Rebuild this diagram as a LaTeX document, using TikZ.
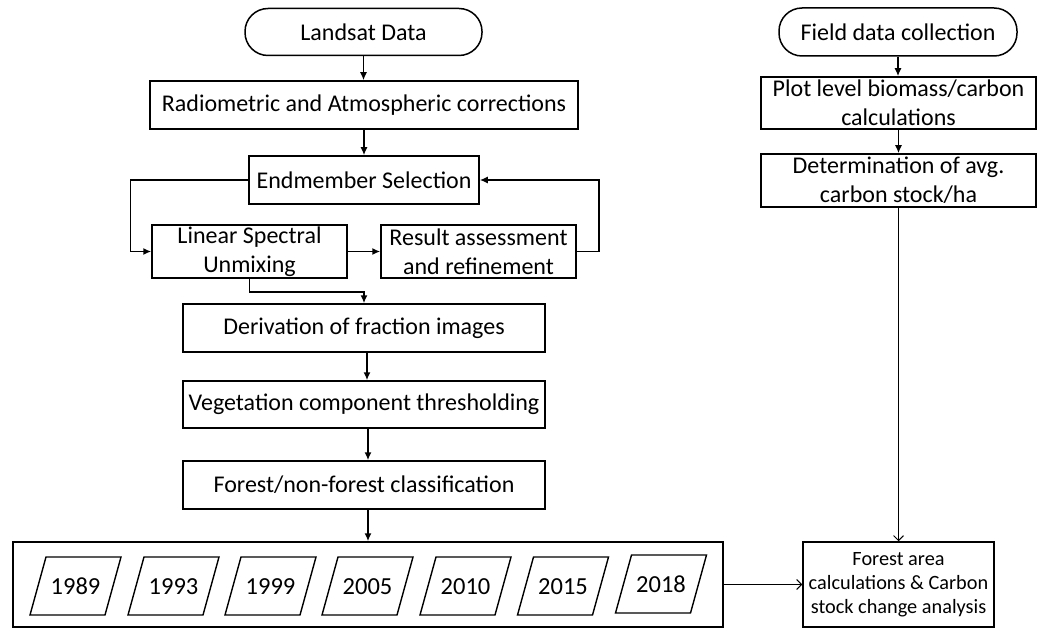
\documentclass[tikz,border=0pt]{standalone}
\usepackage{fontspec}
\setmainfont{Carlito}[Numbers=Lining]
\usetikzlibrary{arrows.meta}
\begin{document}
\begin{tikzpicture}[x=1pt,y=-1pt,
  box/.style={draw, line width=1.5pt, inner sep=0pt, align=center, font=\fontsize{24}{29}\selectfont},
  term/.style={box, rounded corners=23pt},
  yrtext/.style={inner sep=0pt, anchor=base, font=\fontsize{24.5}{28}\selectfont},
  para/.style={line width=1.4pt, line join=miter},
  arr/.style={line width=1.5pt, -{Latex[length=8pt,width=7pt]}},
  thinarr/.style={line width=0.9pt, -{Straight Barb[length=5pt,width=10pt]}}
]
\useasboundingbox (0,0) rectangle (1040,628);
% left column
\node[term, minimum width=237pt, minimum height=47pt] (land) at (363.5,32) {Landsat Data};
\node[box, minimum width=428pt, minimum height=48pt] (rad) at (364,105) {Radiometric and Atmospheric corrections};
\node[box, minimum width=230pt, minimum height=48pt] (endm) at (364,180) {Endmember Selection};
\node[box, minimum width=195pt, minimum height=53pt] (lsu) at (249.5,251.5) {Linear Spectral\\Unmixing};
\node[box, minimum width=195pt, minimum height=53pt] (res) at (478.5,251.5) {Result assessment\\and refinement};
\node[box, minimum width=362pt, minimum height=48pt] (deriv) at (364,328) {Derivation of fraction images};
\node[box, minimum width=362pt, minimum height=47pt] (veg) at (364,404.5) {Vegetation component thresholding};
\node[box, minimum width=362pt, minimum height=48pt] (fnf) at (364,485) {Forest/non-forest classification};
\node[box, minimum width=710pt, minimum height=85pt] (big) at (368,584.5) {};
\foreach \yr/\cx/\cy in {1989/75.5/586, 1993/173.5/586, 1999/270.5/586, 2005/367.5/586, 2010/465.5/586, 2015/563/586, 2018/661/584} {
  \node[yrtext] (y\yr) at (\cx,\cy+8) {\yr};
  \draw[para] (\cx-29.5,\cy-29) -- (\cx+45.5,\cy-29) -- (\cx+29.5,\cy+29) -- (\cx-45.5,\cy+29) -- cycle;
}
% right column
\node[term, minimum width=238pt, minimum height=48pt] (field) at (898,32) {Field data collection};
\node[box, minimum width=275pt, minimum height=52pt] (plot) at (898.5,103) {Plot level biomass/carbon\\calculations};
\node[box, minimum width=275pt, minimum height=53pt] (det) at (898.5,180.5) {Determination of avg.\\carbon stock/ha};
\node[box, minimum width=191pt, minimum height=85pt, font=\fontsize{20.3}{24}\selectfont] (fa) at (898.5,584.5) {Forest area\\calculations \& Carbon\\stock change analysis};
% connectors
\draw[arr] (land.south) -- (land.south |- rad.north);
\draw[arr] (rad.south) -- (rad.south |- endm.north);
\draw[arr] (endm.west) -- ++(-118,0) |- (lsu.west);
\draw[arr] (lsu.east) -- (res.west);
\draw[arr] (res.east) -- ++(22,0) |- (endm.east);
\draw[arr] (lsu.south) -- ++(0,13) -| (deriv.north);
\draw[arr] ([xshift=3pt]deriv.south) -- ([xshift=3pt]deriv.south |- veg.north);
\draw[arr] ([xshift=4pt]veg.south) -- ([xshift=4pt]veg.south |- fnf.north);
\draw[arr] ([xshift=4pt]fnf.south) -- ([xshift=4pt]fnf.south |- big.north);
\draw[thinarr] (big.east) -- (fa.west);
\draw[arr] (field.south) -- (field.south |- plot.north);
\draw[arr] (plot.south) -- (plot.south |- det.north);
\draw[thinarr] (det.south) -- (det.south |- fa.north);
\end{tikzpicture}
\end{document}
